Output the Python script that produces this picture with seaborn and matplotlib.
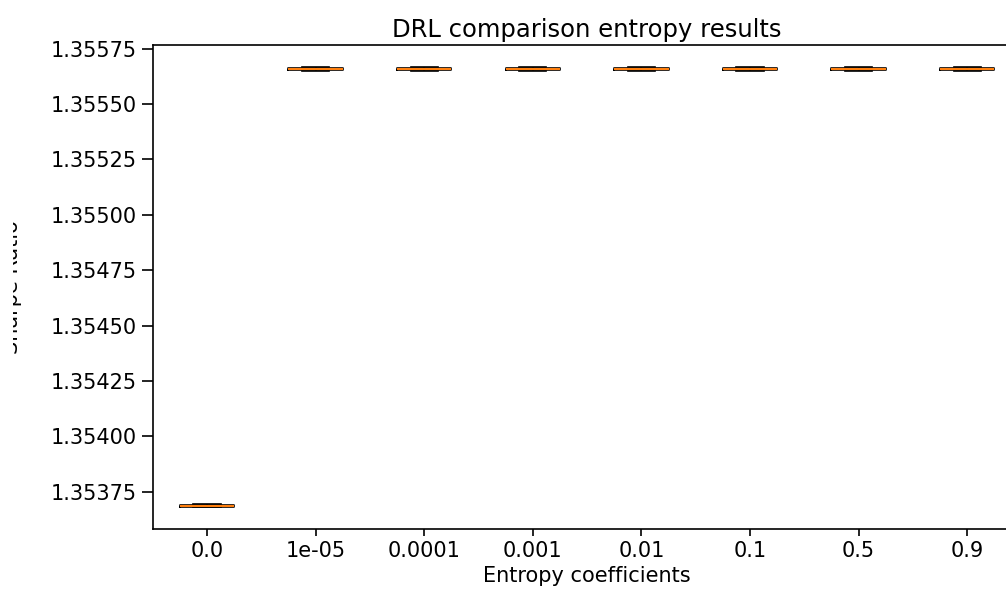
import matplotlib
matplotlib.use("Agg")
import matplotlib.pyplot as plt
from matplotlib.patches import Rectangle
import numpy as np
import pandas as pd
import seaborn as sns

# entropy coefficients (x categories) and sharpe ratio of each run
coefficients = ["0.0", "1e-05", "0.0001", "0.001", "0.01", "0.1", "0.5", "0.9"]
sharpe_no_entropy = [1.353681, 1.353682, 1.353684, 1.353686, 1.353690, 1.353694]
sharpe_with_entropy = [1.355649, 1.355651, 1.355655, 1.355658, 1.355663, 1.355667]

runs = {"0.0": sharpe_no_entropy}
for c in coefficients[1:]:
    runs[c] = sharpe_with_entropy

rows = [(c, v) for c in coefficients for v in runs[c]]
df = pd.DataFrame(rows, columns=["coef", "sharpe"])

plt.rcParams["font.size"] = 15
plt.rcParams["axes.linewidth"] = 1.2

fig = plt.figure(figsize=(10.06, 5.89), dpi=100)
ax = fig.add_axes([0.1518, 0.1019, 0.8636, 0.8217])

sns.boxplot(
    data=df, x="coef", y="sharpe", order=coefficients, ax=ax,
    width=0.5, fill=False, color="black", linewidth=1.2,
    medianprops=dict(color="#ff7f0e", linewidth=1.5),
    showfliers=False,
)

ax.set_title("DRL comparison entropy results", fontsize=17.5)
ax.set_xlabel("Entropy coefficients")
ax.set_ylabel("Sharpe Ratio")
ax.yaxis.set_label_coords(-0.150, 0.5)
ax.tick_params(axis="y", length=8, width=1.2)
ax.tick_params(axis="x", length=5, width=1.2)
ax.ticklabel_format(axis="y", useOffset=False, style="plain")

# the original screenshot is cropped: the y label is cut at its left edge
fig.patches.append(Rectangle((0, 0), 13 / 1006, 1, transform=fig.transFigure,
                             facecolor="white", edgecolor="none", zorder=10))

fig.savefig("out.png", dpi=100)
